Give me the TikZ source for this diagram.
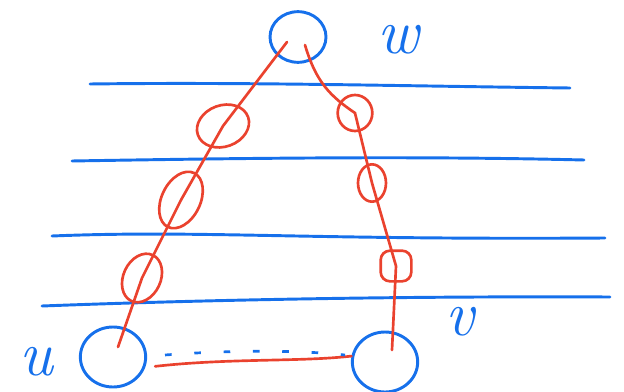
\documentclass[tikz,border=0pt]{standalone}
\usepackage{fontspec}
\usetikzlibrary{shapes.geometric}
\definecolor{pblue}{RGB}{22,112,235}
\definecolor{pred}{RGB}{234,66,46}
\begin{document}
\begin{tikzpicture}[x=0.75pt,y=-0.75pt,
  bl/.style={draw=pblue,line width=2.2pt,line cap=round},
  rl/.style={draw=pred,line width=2pt,line cap=round},
  bnode/.style={ellipse,draw=pblue,line width=2.2pt,inner sep=0pt},
  rnode/.style={ellipse,draw=pred,line width=2pt,inner sep=0pt},
  lab/.style={text=pblue,inner sep=0pt,font=\fontsize{48}{48}\selectfont\itshape}]
\useasboundingbox (0,0) rectangle (624,392);
% layer lines
\draw[bl] (90,84) .. controls (250,82) and (400,86) .. (570,88);
\draw[bl] (72,161) .. controls (250,158) and (420,156) .. (584,160);
\draw[bl] (52,236) .. controls (200,230) and (300,240) .. (605,238);
\draw[bl] (42,306) .. controls (200,300) and (400,296) .. (610,297);
% blue vertices
\node[bnode,minimum width=42pt,minimum height=38pt] (w) at (298,37) {};
\node[bnode,minimum width=49pt,minimum height=45pt] (u) at (113,357) {};
\node[bnode,minimum width=49pt,minimum height=45pt] (v) at (385,362) {};
% labels
\node[lab] (lw) at (398,40) {w};
\node[lab] (lu) at (36,362) {u};
\node[lab] (lv) at (460,322) {v};
% red vertices
\node[rnode,minimum width=40pt,minimum height=31pt,rotate=20] (a1) at (223,126) {};
\node[rnode,minimum width=45pt,minimum height=29pt,rotate=64] (a2) at (181,200) {};
\node[rnode,minimum width=38pt,minimum height=28pt,rotate=65] (a3) at (142,278) {};
\node[rnode,minimum width=26pt,minimum height=27pt] (b1) at (355,113) {};
\node[rnode,minimum width=21pt,minimum height=28pt] (b2) at (372,183) {};
\node[draw=pred,line width=2pt,rounded corners=7pt,minimum width=23pt,minimum height=23pt,inner sep=0pt] (b3) at (396,266) {};
% red paths
\coordinate (wl) at (287,42);
\coordinate (wr) at (305,45);
\coordinate (ue) at (118,347);
\coordinate (ve) at (392,350);
\draw[rl] (wl) -- (a1.center) -- (a2.center) -- (a3.center) -- (ue);
\draw[rl] (wr) .. controls (316,82) and (330,96) .. (b1.center) -- (b2.center) -- (b3.center) -- (ve);
\draw[rl,shorten <=7.5pt] (u.-18) .. controls (230,358) and (300,362) .. (v.170);
% dashes
\draw[draw=pblue,line width=2pt,dash pattern=on 5pt off 17pt] (165,355) .. controls (230,350) and (300,350) .. (345,355);
\end{tikzpicture}
\end{document}
